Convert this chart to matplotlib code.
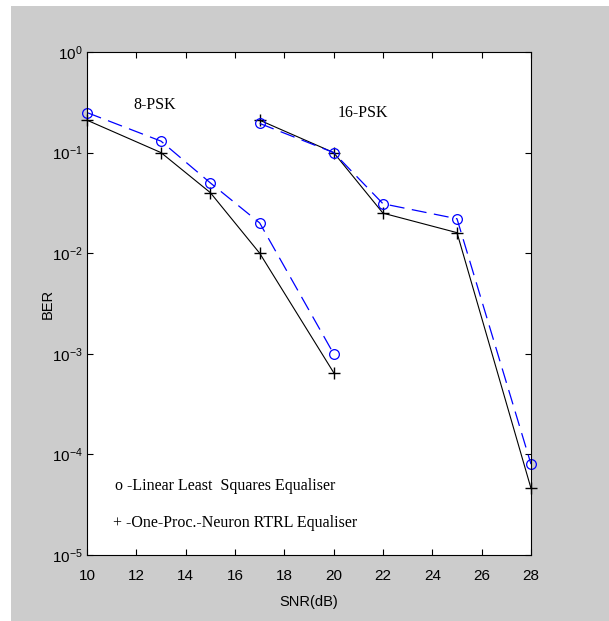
import matplotlib
matplotlib.use("Agg")
import matplotlib.pyplot as plt
from matplotlib.patches import Rectangle
from matplotlib.ticker import LogLocator, NullLocator, MultipleLocator

# BER vs SNR for 8-PSK and 16-PSK, two equalisers
snr_8psk = [10, 13, 15, 17, 20]
ber_8psk_lls = [0.25, 0.13, 0.05, 0.02, 0.001]
ber_8psk_rtrl = [0.21, 0.10, 0.04, 0.01, 0.00065]

snr_16psk = [17, 20, 22, 25, 28]
ber_16psk_lls = [0.195, 0.10, 0.031, 0.022, 8e-5]
ber_16psk_rtrl = [0.21, 0.10, 0.025, 0.016, 4.6e-5]

plt.rcParams['font.family'] = ['Liberation Sans', 'DejaVu Sans']
plt.rcParams['mathtext.fontset'] = 'custom'
plt.rcParams['mathtext.rm'] = 'Liberation Sans'
plt.rcParams['mathtext.it'] = 'Liberation Sans'

fig = plt.figure(figsize=(6.09, 6.21), dpi=100)
fig.patch.set_facecolor('white')
fig.patches.append(Rectangle((11 / 609, 0), 1 - 11 / 609, 1 - 6 / 621,
                             transform=fig.transFigure, facecolor='#cccccc',
                             edgecolor='none', zorder=-10))

ax = fig.add_axes([87 / 609, 66 / 621, 444 / 609, 503 / 621])
ax.set_facecolor('white')

dash = (0, (12, 6))
for snr, lls, rtrl in [(snr_8psk, ber_8psk_lls, ber_8psk_rtrl),
                       (snr_16psk, ber_16psk_lls, ber_16psk_rtrl)]:
    ax.semilogy(snr, rtrl, color='black', lw=0.8, marker='+', ms=8, mew=1.0,
                clip_on=False)
    ax.semilogy(snr, lls, color='blue', lw=0.9, ls=dash, marker='o', ms=7,
                mfc='none', mec='blue', mew=0.9, clip_on=False)

ax.set_xlim(10, 28)
ax.set_ylim(1e-5, 1)
ax.xaxis.set_major_locator(MultipleLocator(2))
ax.yaxis.set_major_locator(LogLocator(base=10, numticks=10))
ax.yaxis.set_minor_locator(NullLocator())
ax.tick_params(direction='in', length=4, width=0.8, top=True, right=True,
               labelsize=11)
ax.tick_params(axis='x', pad=10)
ax.tick_params(axis='y', pad=3)
for s in ax.spines.values():
    s.set_linewidth(0.8)

ax.set_xlabel('SNR(dB)', fontsize=10.5, labelpad=9)
ax.set_ylabel('BER', fontsize=10.5, labelpad=-2)

serif = ['Liberation Serif', 'DejaVu Serif']
ax.text(12.76, 0.30, '8-PSK', family=serif, fontsize=11.5, ha='center', va='center')
ax.text(21.2, 0.25, '16-PSK', family=serif, fontsize=11.5, ha='center', va='center')
ax.text(11.13, 4.8e-5, 'o -Linear Least  Squares Equaliser', family=serif,
        fontsize=11.5, ha='left', va='center')
ax.text(11.05, 2.1e-5, '+ -One-Proc.-Neuron RTRL Equaliser', family=serif,
        fontsize=11.5, ha='left', va='center')

fig.savefig('out.png', dpi=100)
